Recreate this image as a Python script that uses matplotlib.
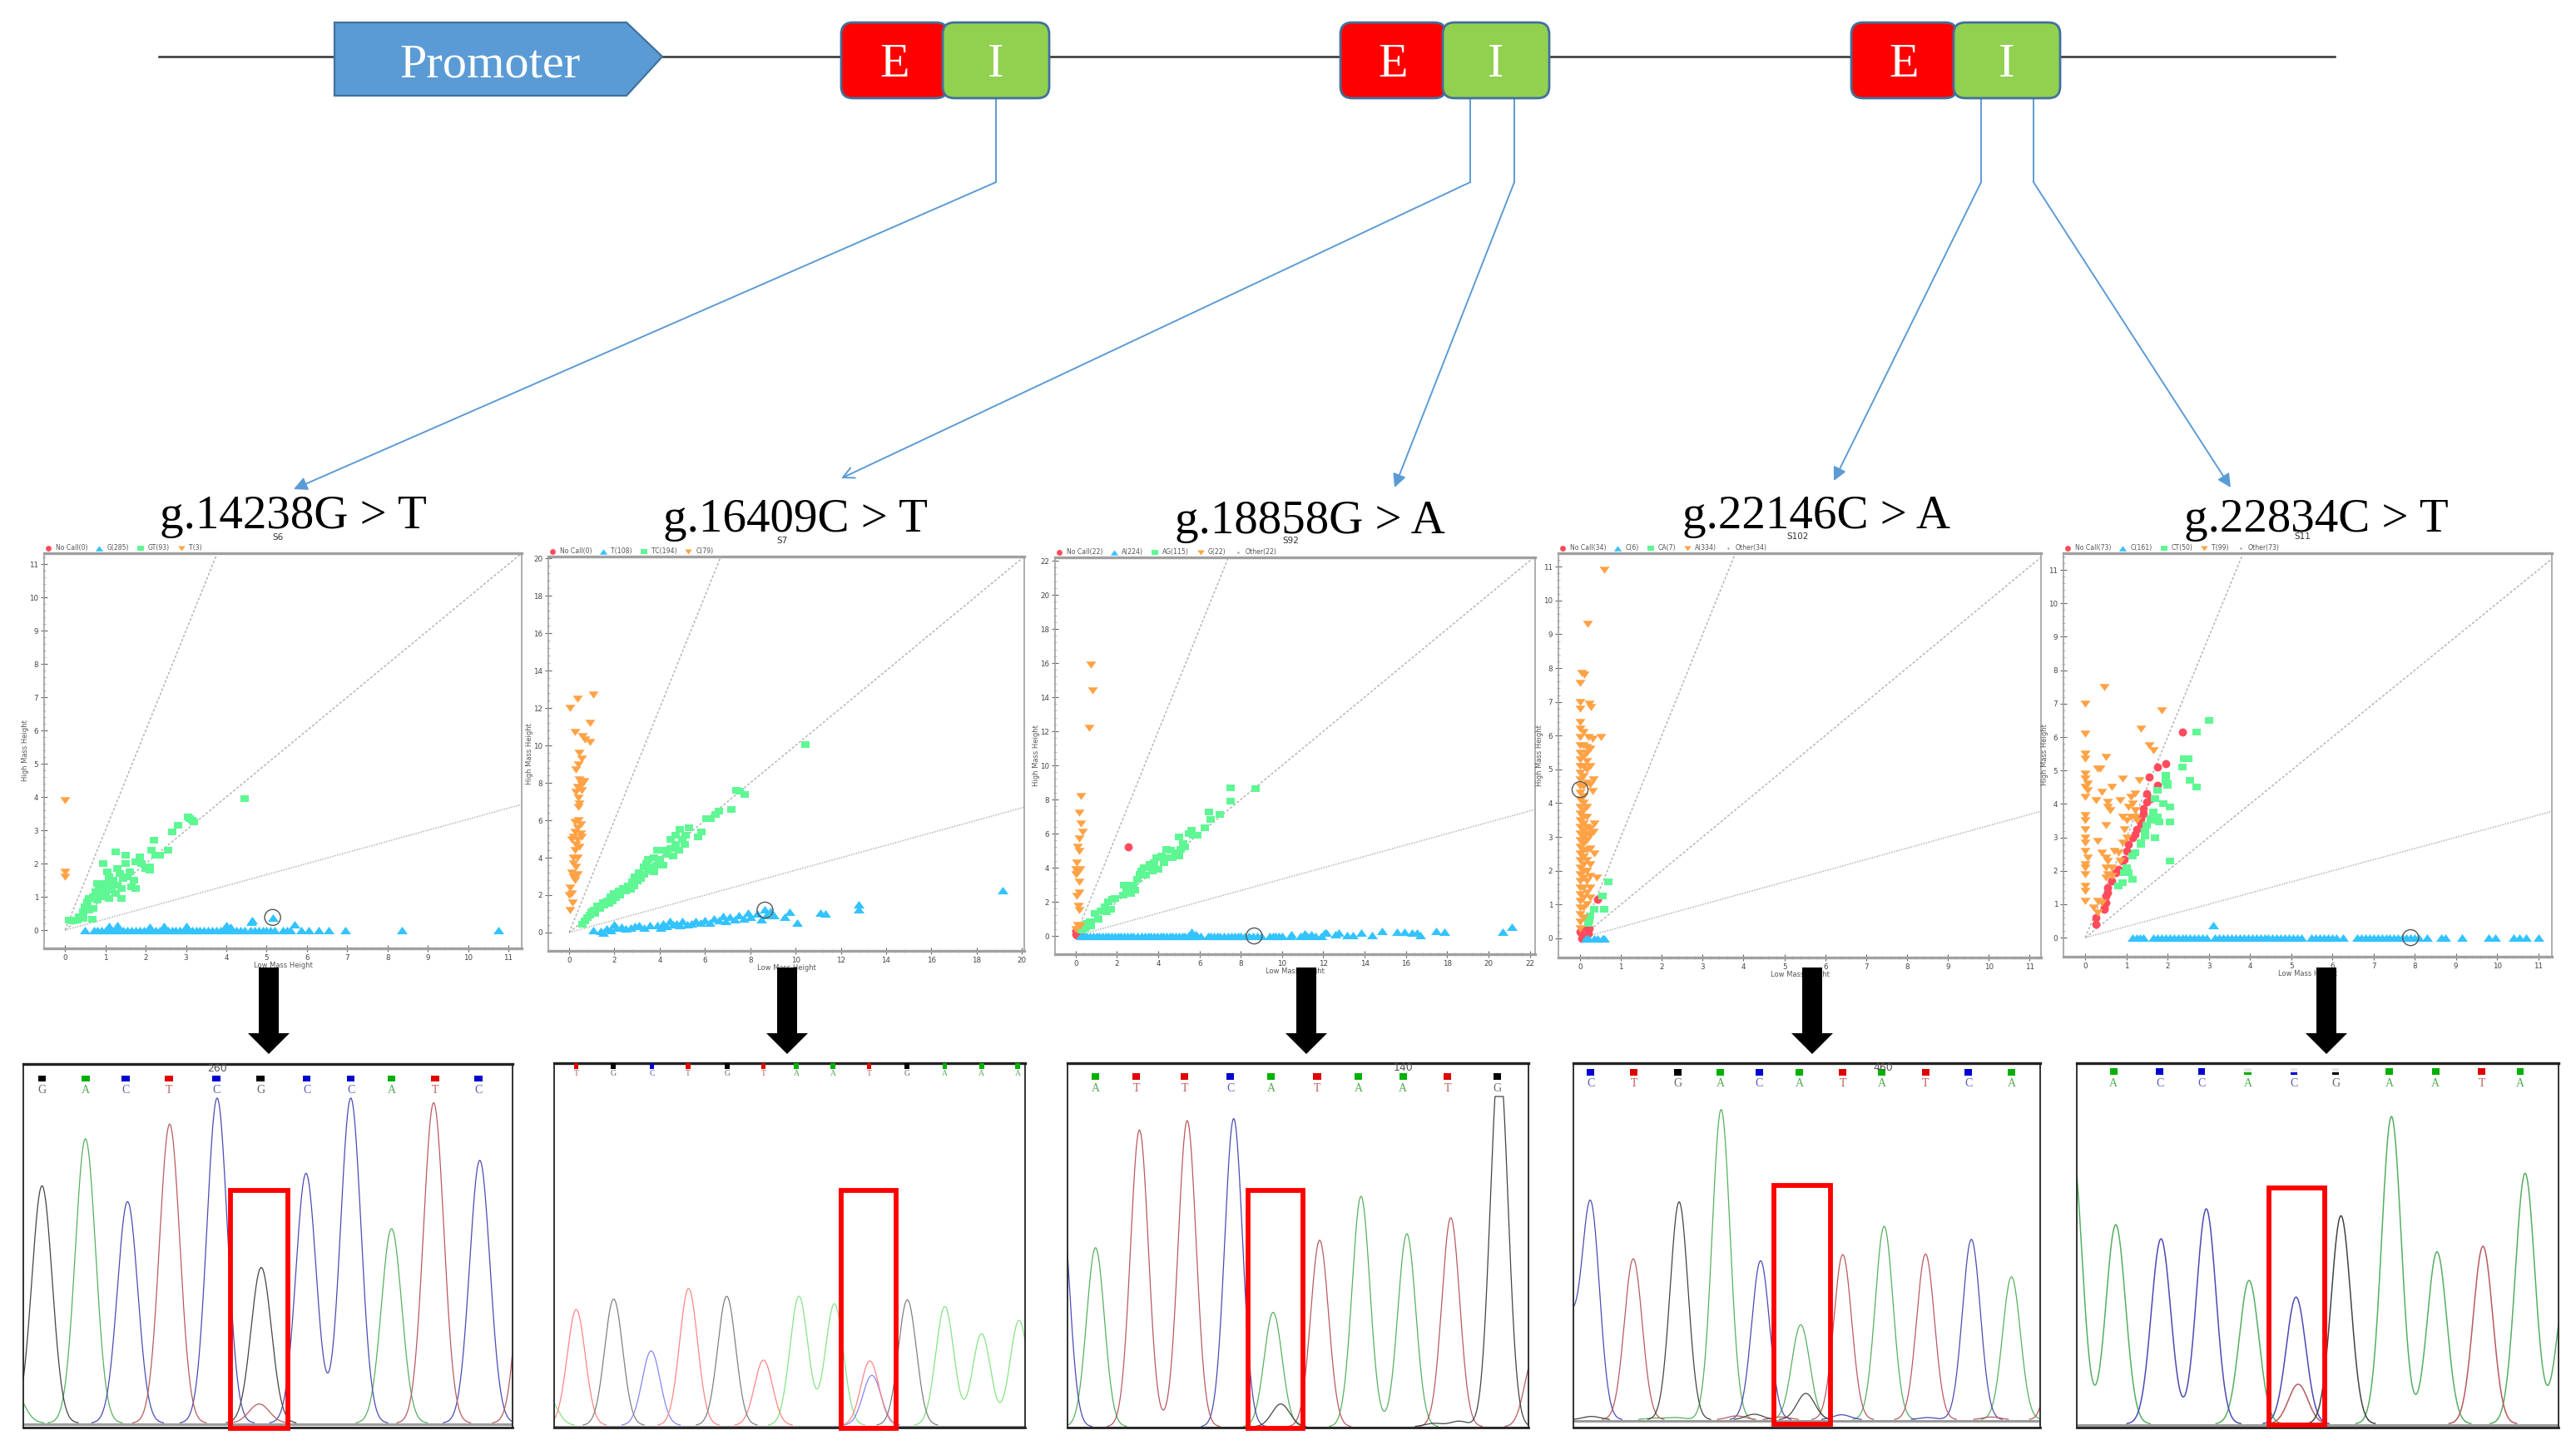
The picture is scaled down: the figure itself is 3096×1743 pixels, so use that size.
"""
Gene schematic, five genotyping scatter panels and five sequencing traces.
Everything is read off the reference picture by eye.
"""
import numpy as np
import matplotlib
matplotlib.use("Agg")
import matplotlib.pyplot as plt
from matplotlib.patches import FancyBboxPatch, Polygon, Rectangle

W, H = 3096, 1743
SERIF = "Liberation Serif"

# ── Scatter panels: (low mass height, high mass height) ───────────────────────
P1_ROW = [0.5, 0.72, 0.8, 0.9, 1.0, 1.1, 1.15, 1.25, 1.35, 1.45, 1.55, 1.65, 1.75, 1.85, 1.95, 2.05, 2.15, 2.25,
          2.35, 2.45, 2.55, 2.65, 2.75, 2.85, 2.95, 3.05, 3.15, 3.25, 3.35, 3.45, 3.55, 3.65, 3.75, 3.85, 3.95, 4.05,
          4.15, 4.25, 4.35, 4.45, 4.6, 4.7, 4.8, 4.9, 5.0, 5.1, 5.2, 5.4, 5.5, 5.6, 5.85, 6.05, 6.3, 6.55, 6.95,
          8.35, 10.75]
P1_BUMPS = [(4.65, 0.3), (4.62, 0.25), (5.15, 0.38), (5.7, 0.17), (1.1, 0.12), (1.3, 0.16), (2.1, 0.1),
            (2.45, 0.12), (3.0, 0.12), (4.0, 0.15), (4.1, 0.1)]
P1_CALL = [(0.1, 0.3), (0.2, 0.28), (0.3, 0.3), (0.35, 0.4), (0.45, 0.35), (0.45, 0.55), (0.5, 0.7), (0.55, 0.85),
           (0.6, 0.6), (0.7, 0.65), (0.68, 0.32), (0.6, 0.95), (0.7, 1.0), (0.75, 1.15), (0.8, 0.9), (0.85, 1.2),
           (0.8, 1.4), (0.9, 1.05), (0.95, 1.3), (1.0, 1.0), (1.0, 1.4), (1.05, 1.2), (1.1, 1.6), (1.1, 0.95),
           (1.15, 1.3), (1.2, 1.5), (1.25, 1.1), (1.25, 2.35), (1.3, 1.85), (1.3, 1.35), (1.35, 1.7), (1.4, 1.25),
           (1.45, 1.55), (1.4, 0.95), (1.5, 2.25), (1.5, 2.0), (1.55, 1.6), (1.6, 1.75), (1.65, 1.3), (1.7, 1.5),
           (1.75, 1.25), (1.75, 2.05), (1.85, 2.2), (1.9, 2.0), (2.0, 1.85), (2.1, 1.8), (2.1, 1.9), (2.15, 2.4),
           (2.2, 2.7), (2.25, 2.25), (2.35, 2.25), (2.55, 2.4), (2.65, 2.95), (2.8, 3.15), (3.05, 3.4), (3.1, 3.35),
           (3.15, 3.3), (3.2, 3.25), (4.45, 3.95), (0.95, 2.0), (1.05, 1.75)]
P1_HOM = [(0.0, 3.9), (0.0, 1.75), (0.0, 1.6)]

P2_LOW = [(1.05, 0.15), (1.4, 0.1), (1.5, 0.0), (1.65, 0.2), (1.85, 0.15), (2.0, 0.45), (2.1, 0.25), (2.3, 0.3),
          (2.5, 0.2), (2.7, 0.25), (2.9, 0.35), (3.1, 0.4), (3.3, 0.25), (3.55, 0.4), (3.9, 0.4), (4.05, 0.25),
          (4.15, 0.5), (4.3, 0.35), (4.45, 0.6), (4.6, 0.45), (4.75, 0.5), (4.9, 0.4), (5.0, 0.6), (5.2, 0.45),
          (5.4, 0.5), (5.6, 0.6), (5.8, 0.55), (6.0, 0.65), (6.2, 0.55), (6.4, 0.75), (6.6, 0.65), (6.8, 0.9),
          (6.9, 0.6), (7.1, 0.85), (7.3, 0.7), (7.5, 0.95), (7.7, 0.75), (7.9, 1.05), (8.0, 0.85), (8.3, 1.0),
          (8.5, 0.7), (8.65, 1.25), (8.7, 0.95), (8.9, 1.15), (9.05, 0.95), (9.5, 0.85), (9.75, 1.1), (10.05, 0.55),
          (11.1, 1.05), (11.3, 1.0), (12.8, 1.5), (12.8, 1.25), (19.15, 2.25)]
P2_CALL = [(0.6, 0.45), (0.7, 0.6), (0.8, 0.8), (0.9, 0.95), (1.0, 1.1), (1.1, 1.2), (1.15, 1.0), (1.25, 1.4),
           (1.35, 1.3), (1.5, 1.6), (1.55, 1.45), (1.7, 1.7), (1.75, 1.55), (1.85, 1.9), (1.9, 1.7), (2.0, 2.1),
           (2.05, 1.85), (2.2, 2.2), (2.25, 2.0), (2.4, 2.35), (2.5, 2.2), (2.6, 2.5), (2.7, 2.3), (2.8, 2.7),
           (2.85, 2.5), (2.9, 3.0), (3.0, 2.75), (3.1, 3.2), (3.15, 2.9), (3.3, 3.5), (3.3, 3.1), (3.4, 3.7),
           (3.5, 3.3), (3.5, 3.9), (3.65, 3.5), (3.75, 3.25), (3.75, 4.0), (3.85, 3.6), (3.9, 4.4), (4.0, 3.9),
           (4.15, 3.6), (4.2, 4.4), (4.35, 4.2), (4.5, 4.5), (4.5, 5.0), (4.6, 4.1), (4.7, 4.7), (4.7, 5.2),
           (4.85, 4.4), (4.9, 5.5), (5.0, 5.0), (5.1, 4.7), (5.15, 5.2), (5.3, 5.6), (5.7, 5.1), (5.85, 5.4),
           (6.05, 6.1), (6.25, 6.1), (6.45, 6.3), (6.6, 6.5), (7.15, 6.6), (7.4, 7.6), (7.55, 7.55), (7.75, 7.4),
           (10.45, 10.05)]
P2_HIGH = [(1.05, 12.7), (0.35, 12.5), (0.05, 12.0), (0.9, 11.2), (0.25, 10.7), (0.6, 10.5), (0.7, 10.3), (0.9, 10.2),
           (0.45, 9.6), (0.55, 9.3), (0.4, 9.0), (0.3, 8.7), (0.45, 8.2), (0.65, 8.1), (0.55, 7.9), (0.35, 7.8),
           (0.3, 7.5), (0.55, 7.6), (0.4, 7.2), (0.45, 6.9), (0.4, 6.7), (0.4, 6.0), (0.25, 5.9), (0.5, 5.8),
           (0.35, 5.6), (0.25, 5.4), (0.5, 5.3), (0.1, 5.0), (0.2, 5.1), (0.35, 5.0), (0.55, 5.1), (0.3, 4.7),
           (0.45, 4.6), (0.25, 4.4), (0.2, 4.0), (0.35, 4.0), (0.2, 3.7), (0.3, 3.5), (0.1, 3.2), (0.2, 3.0),
           (0.35, 3.1), (0.25, 2.8), (0.05, 2.4), (0.1, 2.1), (0.0, 2.0), (0.15, 1.6), (0.05, 1.2)]

P3_ROW = [0.25, 0.4, 0.55, 0.7, 0.85, 1.0, 1.15, 1.3, 1.45, 1.6, 1.75, 1.9, 2.05, 2.2, 2.35, 2.5, 2.65, 2.8, 3.0,
          3.2, 3.35, 3.5, 3.65, 3.8, 3.95, 4.1, 4.25, 4.4, 4.55, 4.7, 4.85, 5.0, 5.15, 5.3, 5.45, 5.6, 5.75, 5.9,
          6.05, 6.4, 6.55, 6.7, 6.85, 7.0, 7.2, 7.4, 7.55, 7.7, 7.85, 8.0, 8.2, 8.4, 8.6, 8.8, 9.0, 9.4, 9.55,
          9.7, 9.85, 10.0]
P3_BUMPS = [(5.6, 0.25), (5.8, 0.1), (10.4, 0.0), (10.45, 0.1), (10.9, 0.0), (11.1, 0.15), (11.2, 0.0), (11.4, 0.1),
            (11.6, 0.0), (11.9, 0.0), (12.05, 0.2), (12.15, 0.2), (12.6, 0.1), (12.75, 0.2), (13.15, 0.05),
            (13.45, 0.05), (13.85, 0.2), (14.35, 0.05), (14.85, 0.3), (15.55, 0.25), (15.95, 0.25), (16.3, 0.2),
            (16.55, 0.2), (16.7, 0.05), (17.45, 0.3), (17.85, 0.25), (20.7, 0.25), (21.15, 0.55)]
P3_CALL = [(0.3, 0.35), (0.4, 0.45), (0.5, 0.5), (0.55, 0.75), (0.7, 0.85), (0.75, 0.6), (0.95, 1.3), (1.1, 1.0),
           (1.2, 1.45), (1.4, 1.7), (1.5, 1.4), (1.6, 2.0), (1.7, 1.55), (1.8, 2.15), (1.9, 2.2), (2.3, 2.4),
           (2.35, 3.0), (2.45, 2.7), (2.6, 3.0), (2.65, 2.5), (2.8, 3.0), (2.85, 2.7), (3.0, 3.3), (3.1, 3.6),
           (3.2, 3.8), (3.3, 4.0), (3.4, 3.55), (3.6, 4.2), (3.7, 3.8), (3.8, 4.3), (3.9, 4.6), (4.0, 3.9),
           (4.15, 4.7), (4.3, 4.3), (4.4, 5.1), (4.5, 4.6), (4.6, 5.05), (4.7, 4.6), (4.85, 4.9), (5.0, 4.7),
           (5.1, 5.1), (5.0, 5.8), (5.2, 5.4), (5.3, 5.2), (5.5, 6.0), (5.6, 6.2), (5.7, 5.9), (5.9, 5.9),
           (6.25, 6.35), (6.45, 7.25), (6.55, 6.85), (7.0, 7.15), (7.5, 7.9), (7.5, 8.7), (8.7, 8.65)]
P3_HIGH = [(0.75, 15.9), (0.8, 14.4), (0.65, 12.2), (0.25, 8.2), (0.15, 7.2), (0.25, 6.6), (0.35, 6.1), (0.15, 5.7),
           (0.1, 5.2), (0.18, 5.0), (0.05, 4.3), (0.0, 3.9), (0.2, 3.9), (0.1, 3.7), (0.0, 3.6), (0.18, 3.15),
           (0.15, 2.55), (0.05, 2.35), (0.12, 1.75), (0.18, 1.5), (0.1, 0.65), (0.0, 0.4), (0.2, 0.6)]
P3_NOCALL = [(2.55, 5.2), (0.0, 0.3), (0.1, 0.2), (0.05, 0.05), (0.15, 0.1), (0.0, 0.1), (0.1, 0.35)]

P4_LOW = [(0.15, 0.0), (0.2, 0.0), (0.35, 0.0), (0.42, 0.0), (0.55, 0.0), (0.6, 0.0)]
P4_CALL = [(0.7, 1.67), (0.55, 1.25), (0.35, 0.85), (0.6, 0.85), (0.25, 0.65), (0.22, 0.55), (0.2, 0.45)]
P4_NOCALL = [(0.42, 1.15), (0.0, 0.2), (0.05, 0.0), (0.15, 0.3), (0.22, 0.3), (0.2, 0.15), (0.1, 0.05)]
P4_HIGH_SCATTERED = [(0.6, 10.9), (0.18, 9.3), (0.05, 7.85), (0.1, 7.8), (0.0, 7.55), (0.0, 7.0), (0.22, 6.95),
                     (0.27, 6.85), (0.0, 6.8), (0.0, 6.4), (0.0, 6.2), (0.08, 6.1), (0.2, 5.95), (0.5, 5.95),
                     (0.3, 5.9), (0.33, 4.7), (0.3, 4.35), (0.35, 3.4), (0.32, 3.15), (0.35, 2.5), (0.4, 1.8)]
P4_COL_X00 = [0.3, 0.5, 0.7, 0.9, 1.1, 1.3, 1.5, 1.7, 1.9, 2.1, 2.3, 2.5, 2.7, 2.9, 3.1, 3.3, 3.5, 3.7, 3.9, 4.1,
              4.3, 4.5, 4.7, 4.9, 5.1, 5.3, 5.5, 5.7, 5.95]
P4_COL_X08 = [0.6, 0.9, 1.2, 1.5, 1.8, 2.0, 2.2, 2.4, 2.6, 2.8, 3.0, 3.2, 3.4, 3.6, 3.8, 4.0, 4.2, 4.5, 4.8, 5.1,
              5.4, 5.7]
P4_COL_X16 = [1.0, 1.35, 1.7, 2.0, 2.3, 2.6, 2.9, 3.1, 3.3, 3.6, 3.9, 4.6, 5.0, 5.25, 5.5, 5.65]
P4_COL_X24 = [1.2, 1.5, 1.85, 2.2, 2.65, 3.05, 3.25, 4.55, 5.1, 5.6]

P5_ROW = [1.15, 1.25, 1.32, 1.4, 1.65, 1.75, 1.85, 1.95, 2.05, 2.15, 2.25, 2.35, 2.45, 2.55, 2.65, 2.75, 2.85, 2.95,
          3.15, 3.25, 3.35, 3.45, 3.55, 3.65, 3.75, 3.85, 3.95, 4.05, 4.15, 4.25, 4.35, 4.45, 4.55, 4.65, 4.75, 4.85,
          4.95, 5.05, 5.15, 5.25, 5.5, 5.6, 5.7, 5.8, 5.9, 6.0, 6.1, 6.25, 6.6, 6.7, 6.8, 6.9, 7.0, 7.1, 7.2, 7.3,
          7.4, 7.5, 7.6, 7.7, 7.8, 7.9, 8.0, 8.1, 8.3, 8.65, 8.75, 9.15, 9.8, 9.95, 10.4, 10.55, 10.7, 11.0]
P5_BUMPS = [(3.1, 0.38)]
P5_CALL = [(3.0, 6.5), (2.7, 6.15), (2.4, 5.35), (2.5, 5.35), (2.35, 5.1), (2.55, 4.7), (2.7, 4.5), (2.0, 4.6),
           (2.0, 4.55), (1.95, 4.65), (1.95, 4.85), (1.75, 4.4), (1.7, 4.15), (1.9, 4.0), (2.05, 3.9), (1.65, 3.75),
           (1.75, 3.6), (1.65, 3.5), (1.6, 3.55), (1.8, 3.45), (2.05, 3.45), (1.5, 3.35), (1.45, 3.2), (1.45, 3.05),
           (1.7, 3.0), (1.35, 2.85), (1.35, 2.8), (1.2, 2.55), (1.15, 2.45), (2.05, 2.3), (1.0, 2.1), (1.05, 1.95),
           (0.95, 1.95), (1.15, 1.75), (0.9, 1.65), (0.8, 1.55)]
P5_HIGH = [(0.45, 7.5), (0.0, 7.0), (1.85, 6.8), (1.35, 6.25), (0.0, 6.1), (1.55, 5.75), (1.65, 5.6), (0.0, 5.5),
           (0.0, 5.35), (0.5, 5.4), (0.0, 4.9), (0.3, 5.05), (0.35, 5.05), (0.0, 4.75), (0.05, 4.6), (0.0, 4.5),
           (0.05, 4.4), (0.9, 4.75), (1.3, 4.7), (0.65, 4.5), (0.4, 4.35), (0.0, 4.2), (0.25, 4.1), (0.55, 4.05),
           (0.55, 3.9), (0.6, 3.8), (0.85, 4.1), (1.1, 4.2), (1.2, 4.3), (1.15, 4.0), (1.05, 3.9), (1.2, 3.8),
           (0.0, 3.65), (0.0, 3.5), (0.9, 3.6), (1.0, 3.5), (1.1, 3.6), (0.5, 3.35), (0.0, 3.25), (0.0, 3.0),
           (0.0, 2.85), (0.3, 2.9), (0.95, 3.25), (1.0, 3.0), (0.9, 2.85), (0.0, 2.6), (0.4, 2.55), (0.5, 2.4),
           (0.7, 2.6), (0.8, 2.55), (0.85, 2.3), (0.05, 2.4), (0.0, 2.2), (0.0, 2.1), (0.55, 2.3), (0.65, 2.1),
           (0.5, 2.1), (0.55, 1.9), (0.65, 1.85), (0.0, 1.9), (0.5, 1.8), (0.0, 1.55), (0.0, 1.4), (0.0, 1.1),
           (0.3, 1.1), (0.4, 1.05), (0.2, 0.9), (0.3, 0.75), (1.25, 3.5), (1.2, 3.6)]
P5_NOCALL = [(2.35, 6.15), (1.95, 5.2), (1.75, 5.1), (1.55, 4.8), (1.75, 4.55), (1.5, 4.3), (1.6, 4.15), (1.5, 4.05),
             (1.4, 3.85), (1.4, 3.7), (1.35, 3.55), (1.35, 3.4), (1.25, 3.25), (1.2, 3.1), (1.15, 3.0), (1.05, 2.8),
             (1.0, 2.6), (0.95, 2.35), (0.9, 2.3), (0.8, 2.05), (0.75, 1.95), (0.65, 1.7), (0.55, 1.5), (0.55, 1.35),
             (0.5, 1.25), (0.5, 1.05), (0.45, 0.9), (0.45, 0.85), (0.25, 0.6), (0.25, 0.4)]

LEGENDS = [
    ["No Call(0)", "G(285)", "GT(93)", "T(3)"],
    ["No Call(0)", "T(108)", "TC(194)", "C(79)"],
    ["No Call(22)", "A(224)", "AG(115)", "G(22)", "Other(22)"],
    ["No Call(34)", "C(6)", "CA(7)", "A(334)", "Other(34)"],
    ["No Call(73)", "C(161)", "CT(50)", "T(99)", "Other(73)"],
]
SAMPLES = ["S6", "S7", "S92", "S102", "S11"]
VARIANTS = ["g.14238G > T", "g.16409C > T", "g.18858G > A", "g.22146C > A", "g.22834C > T"]
CIRCLED = [(5.15, 0.38), (8.65, 1.2), (8.65, 0.0), (0.0, 4.4), (7.9, 0.0)]
TICKS = [range(0, 12), range(0, 21, 2), range(0, 23, 2), range(0, 12), range(0, 12)]
SLOPES = [3, 1, 1 / 3]

# ── Sequencing traces: (scan position, peak height) per base ──────────────────
C1_G = [(63, 857), (391, 562)]
C1_A = [(128, 1027), (586, 702), (20, 120)]
C1_C = [(191, 800), (325, 1174), (458, 902), (525, 1174), (718, 949)]
C1_T = [(254, 1080), (649, 1157), (388, 69), (792, 1000)]
C1_CALLS = "GACTCGCCATC"
C1_CALL_X = [63, 128, 188, 253, 324, 390, 459, 525, 586, 651, 716]

C2_G = [(918, 455), (1087, 465), (1357, 452)]
C2_A = [(820, 100), (1195, 465), (1248, 438), (1413, 428), (1468, 330), (1524, 378)]
C2_C = [(974, 268), (1304, 180)]
C2_T = [(862, 417), (1030, 493), (1142, 235), (1301, 232)]
C2_CALLS = "TGCTGTAATGAAA"
C2_CALL_X = [862, 917, 975, 1029, 1088, 1142, 1191, 1246, 1300, 1356, 1413, 1468, 1522]

C3_G = [(708, 1330), (365, 82), (605, 12), (645, 20)]
C3_A = [(74, 645), (353, 412), (491, 830), (563, 695)]
C3_C = [(291, 1110), (18, 900)]
C3_T = [(143, 1069), (218, 1103), (426, 672), (632, 753), (762, 250)]
C3_CALLS = "ATTCATAATG"
C3_CALL_X = [74, 138, 214, 286, 350, 422, 487, 557, 627, 705]

C4_G = [(990, 785), (1189, 95), (1108, 20), (852, 12)]
C4_A = [(1056, 1118), (1181, 342), (1312, 697), (1512, 515), (950, 6), (985, 8)]
C4_C = [(851, 778), (1118, 573), (1449, 650), (815, 350), (1245, 18), (1380, 8)]
C4_T = [(918, 580), (1247, 595), (1377, 597), (1590, 800), (1080, 14), (1150, 10), (1480, 10)]
C4_CALLS = "CTGACATATCA"
C4_CALL_X = [851, 919, 988, 1055, 1116, 1179, 1247, 1308, 1377, 1444, 1512]

C5_G = [(892, 750)]
C5_A = [(120, 1000), (245, 718), (628, 517), (1037, 1108), (1168, 620), (1421, 903), (1540, 500)]
C5_C = [(375, 667), (505, 775), (763, 457)]
C5_T = [(1300, 640), (769, 143)]
C5_CALLS = "ACCACGAATA"
C5_CALL_X = [239, 371, 492, 624, 757, 877, 1031, 1164, 1296, 1407]
C5_QUALITY = [1, 1, 1, 0.3, 0.3, 0.3, 1, 1, 1, 1]

RULER = ["260", "", "140", "460", "300"]
RULER_X = [325, 0, 558, 1310, 493]

BLUE, GREEN, ORANGE, RED = "#33C3FF", "#5FF794", "#FFA245", "#FF4B5C"
ARROW_BLUE = "#5B9BD5"
DARK_BASE = {"G": "#444444", "A": "#55B060", "C": "#4B4BB5", "T": "#B85A5F"}
PALE_BASE = {"G": "#808080", "A": "#84E484", "C": "#8585F5", "T": "#FF8585"}
CALL_BASE = {"G": "#000000", "A": "#00B000", "C": "#0000D0", "T": "#E00000"}
LETTER_BASE = {"G": "#666666", "A": "#55AA55", "C": "#5A5AB8", "T": "#BB5A5A"}

# the software's markers come out wider than tall after the figure was squeezed
FLAT_SQUARE = [(-1, -0.75), (1, -0.75), (1, 0.75), (-1, 0.75)]
FLAT_UP = [(-1, -0.7), (1, -0.7), (0, 0.7)]
FLAT_DOWN = [(-1, 0.7), (1, 0.7), (0, -0.7)]

fig = plt.figure(figsize=(W / 100, H / 100), dpi=100, facecolor="white")


def px_axes(left, top, right, bottom, **kw):
    return fig.add_axes([left / W, 1 - bottom / H, (right - left) / W, (bottom - top) / H], **kw)


def row(xs, y=0.0):
    return [(x, y) for x in xs]


def scatter_panel(box, xlim, ylim, i, low, call, high, nocall):
    ax = px_axes(*box)
    ax.set_xlim(*xlim)
    ax.set_ylim(*ylim)
    for slope, ls in zip(SLOPES, [(0, (2, 1.5)), (0, (2, 1.5)), (0, (1, 1))]):
        # guide lines run out of the origin to the frame
        end = min(xlim[1], ylim[1] / slope)
        ax.plot([0, end], [0, end * slope], color="#b5b5b5", lw=1.1, ls=ls, zorder=1)

    styles = [(nocall, "o", RED, 50), (low, FLAT_UP, BLUE, 88), (call, FLAT_SQUARE, GREEN, 58),
              (high, FLAT_DOWN, ORANGE, 76)]
    names = LEGENDS[i]
    for (pts, marker, colour, size), name in zip(styles, names):
        arr = np.array(pts, dtype=float).reshape(-1, 2)
        ax.scatter(arr[:, 0], arr[:, 1], marker=marker, s=size, color=colour, linewidths=0, label=name, zorder=3)
    if len(names) == 5:
        ax.scatter([], [], marker=".", s=6, color="#aaaaaa", label=names[4])
    ax.scatter(*CIRCLED[i], s=190, facecolors="none", edgecolors="#555555", linewidths=1.0, zorder=4)

    ax.set_xticks(list(TICKS[i]))
    ax.set_yticks(list(TICKS[i]))
    step = TICKS[i][1] - TICKS[i][0]
    ax.set_xticks(np.arange(0, xlim[1], step / 5), minor=True)
    ax.set_yticks(np.arange(0, ylim[1], step / 5), minor=True)
    ax.tick_params(which="major", direction="inout", length=6, width=0.8, color="#666666", labelsize=6.3,
                   labelcolor="#444444", pad=2)
    ax.tick_params(which="minor", direction="inout", length=3, width=0.5, color="#999999")
    for side, spine in ax.spines.items():
        spine.set_color("#a0a0a0")
        spine.set_linewidth(2.4 if side in ("top", "bottom") else 1.2)
    ax.set_xlabel("Low Mass Height", fontsize=6, color="#555555", labelpad=0)
    ax.set_ylabel("High Mass Height", fontsize=6, color="#555555", labelpad=0)
    ax.legend(loc="lower left", bbox_to_anchor=(0.002, 1.004), ncol=len(names), frameon=False, fontsize=5.6,
              markerscale=0.7, handlelength=1, handletextpad=0.65, columnspacing=1.3, borderaxespad=0, borderpad=0,
              labelcolor="#555555")
    return ax


def trace_panel(box, xlim, base, peaks, sigma, palette, calls, call_x, call_y, quality=None, ceiling=None,
                ruler=None, line=0.9, letter=10, bar=(12, 22)):
    ax = px_axes(*box)
    ax.set_xlim(*xlim)
    ax.set_ylim(base - 1368, base - 55)
    xs = np.linspace(xlim[0], xlim[1], 1600)
    for name, pts in peaks.items():
        # bell shape around each apex
        ys = sum(h * np.exp(-((xs - c) ** 2) / (2 * sigma ** 2)) for c, h in pts)
        if ceiling is not None:
            ys = np.minimum(ys, ceiling)
        ys = np.where(ys < 1.5, np.nan, ys)
        ax.plot(xs, ys, color=palette[name], lw=line, zorder=2)
    ax.axhline(-4, color="#9a9a9a", lw=2.2, zorder=1)
    sq_y, txt_y = call_y
    for k, (base_call, x) in enumerate(zip(calls, call_x)):
        frac = 1 if quality is None else quality[k]
        ax.bar(x, bar[1], width=bar[0], bottom=base - sq_y - bar[1] / 2, color="#e8e8e8" if frac < 1 else "white",
               linewidth=0, zorder=3)
        ax.bar(x, bar[1] * frac, width=bar[0], bottom=base - sq_y - bar[1] / 2, color=CALL_BASE[base_call],
               linewidth=0, zorder=3)
        ax.text(x, base - txt_y, base_call, ha="center", va="center", fontsize=letter, family=SERIF,
                color=LETTER_BASE[base_call], zorder=3)
    if ruler:
        ax.text(ruler[1], base - 72, ruler[0], ha="center", va="center", fontsize=9, color="#555555",
                clip_on=True, zorder=3)
    ax.set_xticks([])
    ax.set_yticks([])
    for spine in ax.spines.values():
        spine.set_color("#222222")
        spine.set_linewidth(1.3)
    ax.spines["top"].set_linewidth(2.4)
    ax.spines["bottom"].set_linewidth(2.0)
    return ax


# ── Scatter panels ────────────────────────────────────────────────────────────
scatter_panel((53, 665, 627, 1140), (-0.52, 11.33), (-0.55, 11.33), 0, row(P1_ROW) + P1_BUMPS, P1_CALL, P1_HOM, [])
scatter_panel((659, 669, 1231, 1143), (-0.92, 20.1), (-0.98, 20.1), 1, P2_LOW, P2_CALL, P2_HIGH, [])
scatter_panel((1268, 670, 1845, 1147), (-1.0, 22.26), (-1.07, 22.2), 2, row(P3_ROW) + P3_BUMPS, P3_CALL, P3_HIGH,
              P3_NOCALL)
p4_high = (P4_HIGH_SCATTERED + [(0.0, y) for y in P4_COL_X00] + [(0.08, y) for y in P4_COL_X08]
           + [(0.16, y) for y in P4_COL_X16] + [(0.24, y) for y in P4_COL_X24])
scatter_panel((1873, 665, 2453, 1151), (-0.53, 11.28), (-0.57, 11.4), 3, P4_LOW, P4_CALL, p4_high, P4_NOCALL)
scatter_panel((2480, 665, 3067, 1150), (-0.53, 11.33), (-0.57, 11.5), 4, row(P5_ROW) + P5_BUMPS, P5_CALL, P5_HIGH,
              P5_NOCALL)

# ── Sequencing traces ─────────────────────────────────────────────────────────
trace_panel((28, 1279, 616, 1716), (35, 767), 1352, {"A": C1_A, "C": C1_C, "T": C1_T, "G": C1_G}, 15.2, DARK_BASE,
            C1_CALLS, C1_CALL_X, (108, 150), ruler=(RULER[0], RULER_X[0]))
trace_panel((666, 1278, 1232, 1716), (829, 1533), 1360, {"A": C2_A, "C": C2_C, "T": C2_T, "G": C2_G}, 13.5, PALE_BASE,
            C2_CALLS, C2_CALL_X, (65, 92), letter=7, bar=(7, 24))
trace_panel((1283, 1278, 1837, 1716), (30, 754), 1365, {"A": C3_A, "C": C3_C, "T": C3_T, "G": C3_G}, 14, DARK_BASE,
            C3_CALLS, C3_CALL_X, (103, 145), ceiling=1190, ruler=(RULER[2], RULER_X[2]))
trace_panel((1891, 1278, 2452, 1716), (824, 1557), 1340, {"A": C4_A, "C": C4_C, "T": C4_T, "G": C4_G}, 14, DARK_BASE,
            C4_CALLS, C4_CALL_X, (88, 128), ruler=(RULER[3], RULER_X[3]))
trace_panel((2496, 1278, 3075, 1716), (133, 1517), 1355, {"A": C5_A, "C": C5_C, "T": C5_T, "G": C5_G}, 28, DARK_BASE,
            C5_CALLS, C5_CALL_X, (85, 127), quality=C5_QUALITY, line=1.1, bar=(20, 22))

# ── Overlay in image pixels: schematic, connectors, labels, red boxes ─────────
ov = fig.add_axes([0, 0, 1, 1], zorder=20)
ov.set_xlim(0, W)
ov.set_ylim(H, 0)
ov.axis("off")
ov.patch.set_alpha(0)

ov.plot([191, 2806], [68, 68], color="#333333", lw=1.8, zorder=1)
ov.add_patch(Polygon([(402, 27), (753, 27), (796, 68), (753, 115), (402, 115)], closed=True,
                     facecolor=ARROW_BLUE, edgecolor="#41719C", lw=1.6, zorder=2))
ov.text(589, 92, "Promoter", ha="center", va="baseline", family=SERIF, fontsize=42, color="white", zorder=3)

for e_left, e_right, i_left, i_right in [(1011, 1139, 1133, 1261), (1611, 1738, 1734, 1862), (2225, 2352, 2348, 2476)]:
    ov.add_patch(FancyBboxPatch((e_left, 27), e_right - e_left, 91, boxstyle="round,pad=0,rounding_size=14",
                                facecolor="#FF0000", edgecolor="#41719C", lw=2, zorder=2))
    ov.add_patch(FancyBboxPatch((i_left, 27), i_right - i_left, 91, boxstyle="round,pad=0,rounding_size=14",
                                facecolor="#92D050", edgecolor="#41719C", lw=2, zorder=3))
    ov.text((e_left + e_right) / 2, 92, "E", ha="center", va="baseline", family=SERIF, fontsize=42, color="white", zorder=4)
    ov.text((i_left + i_right) / 2, 92, "I", ha="center", va="baseline", family=SERIF, fontsize=42, color="white", zorder=4)

for x0, x1, y1, head in [(1197, 353, 588, "-|>"), (1767, 1011, 575, "->"), (1820, 1676, 586, "-|>"),
                         (2381, 2204, 578, "-|>"), (2444, 2681, 586, "-|>")]:
    ov.plot([x0, x0], [118, 219], color=ARROW_BLUE, lw=1.4, zorder=1)
    ov.annotate("", xy=(x1, y1), xytext=(x0, 219),
                arrowprops=dict(arrowstyle=head, color=ARROW_BLUE, lw=1.4, mutation_scale=24, shrinkA=0, shrinkB=0))

for name, sample, cx, base_y, sx, sy in zip(VARIANTS, SAMPLES, [352, 956, 1574, 2183, 2784],
                                            [635, 639, 641, 635, 639], [334, 940, 1551, 2161, 2767],
                                            [646, 650, 650, 645, 645]):
    ov.text(sx, sy, sample, ha="center", va="center", fontsize=7.5, color="#333333", zorder=5)
    ov.text(cx, base_y, name, ha="center", va="baseline", family=SERIF, fontsize=41, color="black", zorder=6)

for cx in [323, 946, 1570, 2178, 2796]:
    ov.add_patch(Polygon([(cx - 12, 1163), (cx + 12, 1163), (cx + 12, 1242), (cx + 25, 1242), (cx, 1267),
                          (cx - 25, 1242), (cx - 12, 1242)], closed=True, facecolor="black", edgecolor="none", zorder=7))

for x0, x1, y0, y1 in [(277, 346, 1431, 1717), (1011, 1077, 1431, 1717), (1500, 1566, 1431, 1717),
                       (2132, 2200, 1425, 1712), (2727, 2794, 1428, 1713)]:
    ov.add_patch(Rectangle((x0, y0), x1 - x0, y1 - y0, fill=False, edgecolor="#FF0000", lw=4.2, zorder=8))

fig.savefig("out.png", dpi=100, facecolor="white")
